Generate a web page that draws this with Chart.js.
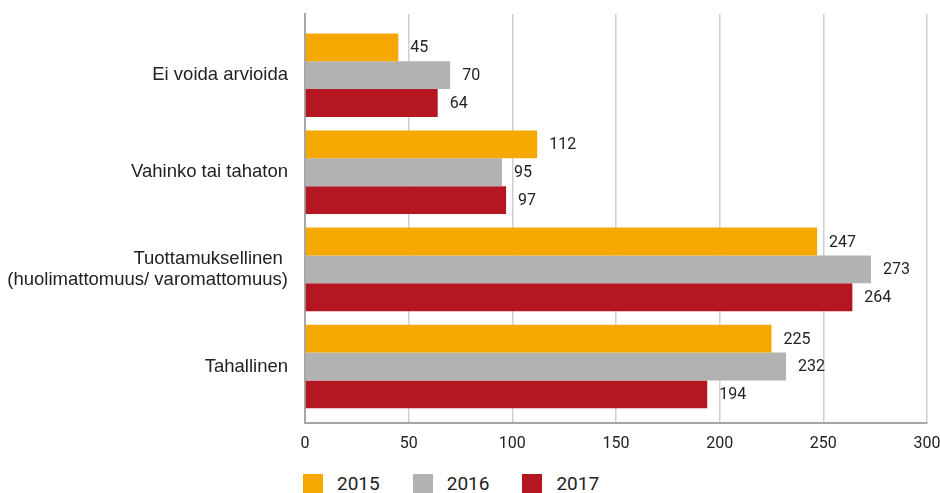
<!DOCTYPE html>
<html>
<head>
<meta charset="utf-8">
<script src="https://cdn.jsdelivr.net/npm/chart.js@4/dist/chart.umd.min.js"></script>
<style>
  body { margin: 0; background: #fff; font-family: Roboto, "Liberation Sans", sans-serif; }
  #wrap { position: relative; width: 940px; height: 466px; }
  #legend { position: absolute; left: 303px; top: 472px; display: flex; color: #222; font-size: 19px; }
  .item { display: flex; align-items: center; margin-right: 33px; }
  .box { width: 20px; height: 20px; margin-right: 14px; }
</style>
</head>
<body>
<div id="wrap"><canvas id="chart"></canvas></div>
<div id="legend"></div>
<script>
  const categories = [
    "Ei voida arvioida",
    "Vahinko tai tahaton",
    ["Tuottamuksellinen ", "(huolimattomuus/ varomattomuus)"],
    "Tahallinen",
  ];
  const years = ["2015", "2016", "2017"];
  const values2015 = [45, 112, 247, 225];
  const values2016 = [70, 95, 273, 232];
  const values2017 = [64, 97, 264, 194];
  const xTicks = [0, 50, 100, 150, 200, 250, 300];

  const colors = ["#f5a800", "#b2b2b2", "#b51722"];
  const font = "Roboto, 'Liberation Sans', sans-serif";
  const catFont = "'Liberation Sans', Arial, sans-serif";

  const series = [values2015, values2016, values2017];

  // value labels right of each bar
  const valueLabels = {
    id: "valueLabels",
    afterDatasetsDraw(chart) {
      const ctx = chart.ctx;
      ctx.save();
      ctx.font = "16px " + font;
      ctx.fillStyle = "#222";
      ctx.textAlign = "left";
      ctx.textBaseline = "middle";
      chart.data.datasets.forEach((ds, i) => {
        chart.getDatasetMeta(i).data.forEach((bar, j) => {
          ctx.fillText(series[i][j], bar.x + 12, bar.y + 1);
        });
      });
      ctx.restore();
    },
  };

  const chart = new Chart(document.getElementById("chart"), {
    type: "bar",
    data: {
      datasets: years.map((y, i) => ({
        label: y,
        data: series[i].map((v, j) => ({ x: v, y: j })),
        backgroundColor: colors[i],
        borderWidth: 0,
        categoryPercentage: 0.86,
        barPercentage: 1,
      })),
    },
    options: {
      indexAxis: "y",
      responsive: true,
      maintainAspectRatio: false,
      animation: false,
      layout: { padding: { top: 14, right: 0, bottom: 0, left: 0 } },
      plugins: {
        legend: { display: false },
        tooltip: { enabled: false },
      },
      scales: {
        x: {
          type: "linear",
          min: xTicks[0],
          max: xTicks[xTicks.length - 1],
          afterBuildTicks: s => { s.ticks = xTicks.map(v => ({ value: v })); },
          afterFit: s => { s.paddingRight = 13; },
          grid: { color: "#d0d0d0", lineWidth: 1.5, drawTicks: false },
          border: { display: true, color: "#a6a6a6", width: 2 },
          ticks: { padding: 12, color: "#222", maxRotation: 0, font: { family: font, size: 16 } },
        },
        y: {
          type: "linear",
          offset: false,
          reverse: true,
          min: -0.63,
          max: 3.58,
          afterBuildTicks: s => { s.ticks = categories.map((c, i) => ({ value: i })); },
          afterFit: s => {
            s.width = 305;
            s.paddingTop = 0;
            s.paddingBottom = 0;
          },
          grid: { display: false, drawTicks: false },
          border: { display: true, color: "#a6a6a6", width: 2 },
          ticks: {
            padding: 17,
            color: "#222",
            font: { family: catFont, size: 18.5, lineHeight: 1.15 },
            callback: v => categories[v],
          },
        },
      },
    },
    plugins: [valueLabels],
  });

  // html legend
  const legend = document.getElementById("legend");
  chart.data.datasets.forEach(ds => {
    const item = document.createElement("div");
    item.className = "item";
    item.innerHTML = `<span class="box" style="background:${ds.backgroundColor}"></span><span>${ds.label}</span>`;
    legend.appendChild(item);
  });
</script>
</body>
</html>
